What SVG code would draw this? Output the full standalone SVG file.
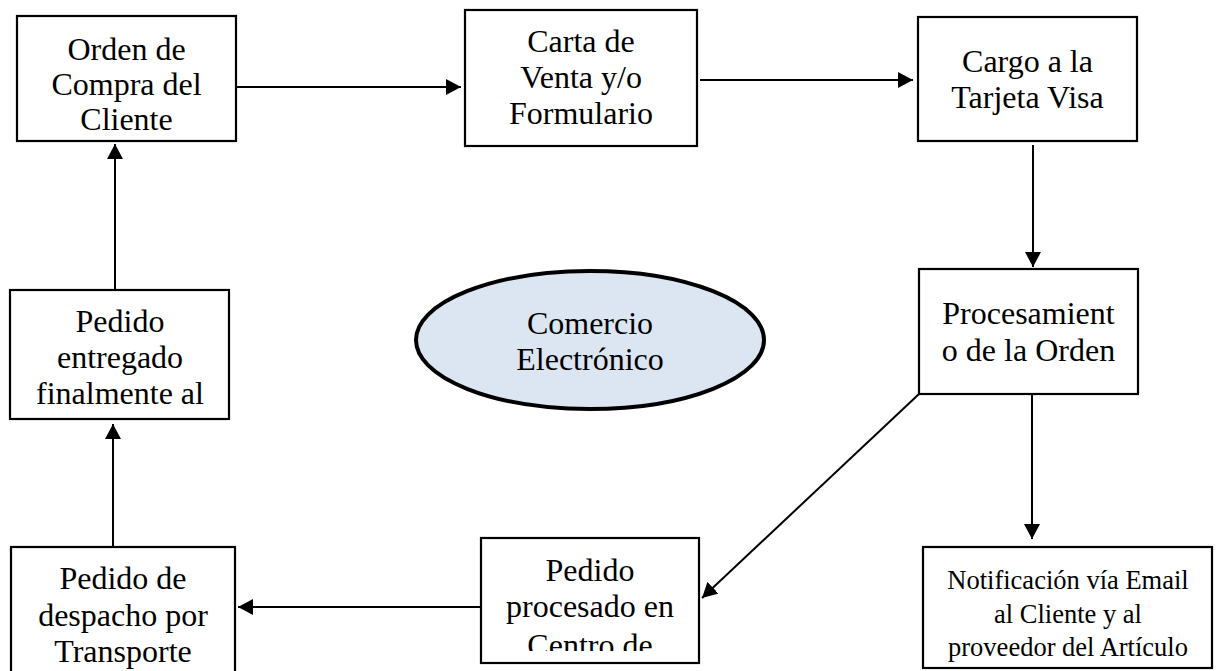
<svg xmlns="http://www.w3.org/2000/svg" width="1216" height="671" viewBox="0 0 1216 671">
<style>
  .box { fill: #ffffff; stroke: #000000; stroke-width: 2.2; }
  .ell { fill: #dce6f2; stroke: #000000; stroke-width: 4; }
  .t { font-family: "Liberation Serif", "Times New Roman", serif; font-size: 32px; fill: #000000; text-anchor: middle; }
  .ts { font-family: "Liberation Serif", "Times New Roman", serif; font-size: 26.5px; fill: #000000; text-anchor: middle; }
  .c { fill: none; stroke: #000000; stroke-width: 2; marker-end: url(#ah); }
</style>
<defs>
  <marker id="ah" markerUnits="userSpaceOnUse" markerWidth="15" markerHeight="16" refX="15" refY="8" orient="auto">
    <path d="M0,0 L15,8 L0,16 z" fill="#000000"/>
  </marker>
  <clipPath id="clip6"><rect x="481" y="538" width="218" height="113"/></clipPath>
</defs>
<rect width="1216" height="671" fill="#ffffff"/>

<g id="connectors">
  <path class="c" d="M229,87 H461"/>
  <path class="c" d="M700,80 H913"/>
  <path class="c" d="M1033,145 V267"/>
  <path class="c" d="M1032,394 V539"/>
  <path class="c" d="M919,394 L702,598"/>
  <path class="c" d="M481,607 H238"/>
  <path class="c" d="M113,547 V424"/>
  <path class="c" d="M115,290 V144"/>
</g>

<g id="n1">
  <rect class="box" x="17" y="16" width="219" height="125"/>
  <text class="t" x="126.5" y="60">Orden de</text>
  <text class="t" x="126.5" y="95">Compra del</text>
  <text class="t" x="126.5" y="130">Cliente</text>
</g>

<g id="n2">
  <rect class="box" x="465" y="10" width="232" height="136"/>
  <text class="t" x="581" y="52">Carta de</text>
  <text class="t" x="581" y="88">Venta y/o</text>
  <text class="t" x="581" y="124">Formulario</text>
</g>

<g id="n3">
  <rect class="box" x="918" y="17" width="219" height="124"/>
  <text class="t" x="1027.5" y="72">Cargo a la</text>
  <text class="t" x="1027.5" y="108">Tarjeta Visa</text>
</g>

<g id="n4">
  <rect class="box" x="919" y="269" width="219" height="125"/>
  <text class="t" x="1028.5" y="324">Procesamient</text>
  <text class="t" x="1028.5" y="361">o de la Orden</text>
</g>

<g id="n5">
  <rect class="box" x="923" y="547" width="289" height="121"/>
  <text class="ts" x="1068" y="589">Notificación vía Email</text>
  <text class="ts" x="1068" y="623">al Cliente y al</text>
  <text class="ts" x="1068" y="656">proveedor del Artículo</text>
</g>

<g id="n6">
  <rect class="box" x="481" y="538" width="218" height="125"/>
  <text class="t" x="590" y="581">Pedido</text>
  <text class="t" x="590" y="617">procesado en</text>
  <text class="t" x="590" y="656" clip-path="url(#clip6)">Centro de</text>
</g>

<g id="n7">
  <rect class="box" x="11" y="547" width="224" height="140"/>
  <text class="t" x="123" y="589">Pedido de</text>
  <text class="t" x="123" y="626">despacho por</text>
  <text class="t" x="123" y="662">Transporte</text>
</g>

<g id="n8">
  <rect class="box" x="10" y="290" width="219" height="129"/>
  <text class="t" x="120" y="332">Pedido</text>
  <text class="t" x="120" y="368">entregado</text>
  <text class="t" x="120" y="404">finalmente al</text>
</g>

<g id="n9">
  <ellipse class="ell" cx="590" cy="340" rx="174" ry="69"/>
  <text class="t" x="590" y="334">Comercio</text>
  <text class="t" x="590" y="370">Electrónico</text>
</g>
</svg>
